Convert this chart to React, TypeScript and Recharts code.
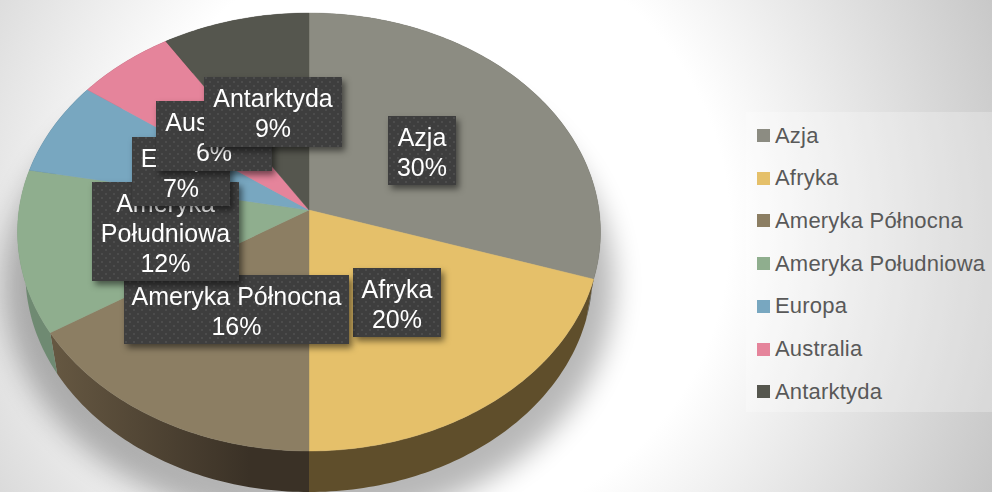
import React from "react";
import { PieChart, Pie, Legend } from "recharts";

const categories = ["Azja", "Afryka", "Ameryka Północna", "Ameryka Południowa", "Europa", "Australia", "Antarktyda"];
const shares = [30, 20, 16, 12, 7, 6, 9];
const faceColors = ["#8c8c82", "#e5c06a", "#8c7e63", "#8fae8e", "#78a7c0", "#e5849b", "#55564e"];
const wallColors = ["#55554e", "#5f4e2b", "url(#wallAP)", "#6f8a72", "#486475", "#8a4f5d", "#33342f"];
const labelLines = [["Azja"], ["Afryka"], ["Ameryka Północna"], ["Ameryka", "Południowa"], ["Europa"], ["Australia"], ["Antarktyda"]];
const labelBoxes = [
  [388, 116, 68, 69],
  [353, 268, 88, 69],
  [124, 275, 225, 69],
  [92, 182, 147, 99],
  [132, 137, 98, 69],
  [156, 101, 116, 70],
  [204, 77, 138, 70],
];

const table = categories.map((name, i) => ({ name, value: shares[i], fill: faceColors[i], wall: wallColors[i] }));

const CX = 309, CY = 210, K = 0.1005, AX = 290, AY = 216.8, DEPTH = 41, SHRINK = 0.973;
const RAD = Math.PI / 180;

function project(angle: number, scale: number, dy: number): [number, number] {
  const u = Math.cos(angle * RAD);
  const v = -Math.sin(angle * RAD);
  const w = 1 - K * v;
  return [CX + (AX * scale * u) / w, CY + dy + (AY * v) / w];
}
function rim(start: number, end: number, scale: number, dy: number): [number, number][] {
  const n = Math.max(2, Math.ceil(Math.abs(end - start)));
  const pts: [number, number][] = [];
  for (let i = 0; i <= n; i++) pts.push(project(start + ((end - start) * i) / n, scale, dy));
  return pts;
}
const toPath = (pts: [number, number][]) => "M" + pts.map((p) => p[0].toFixed(2) + "," + p[1].toFixed(2)).join("L") + "Z";

function FaceShape(props: any) {
  const pts = [[CX, CY] as [number, number], ...rim(props.startAngle, props.endAngle, 1, 0)];
  return <path d={toPath(pts)} fill={props.fill} stroke={props.fill} strokeWidth={0.4} />;
}
function WallShape(props: any) {
  const a = rim(props.startAngle, props.endAngle, 1, 0);
  const b = rim(props.endAngle, props.startAngle, SHRINK, DEPTH);
  return <path d={toPath([...a, ...b])} fill={props.wall} stroke="none" />;
}
function DataLabel(props: any) {
  const i = props.index;
  const [x, y, w, h] = labelBoxes[i];
  const lines = [...labelLines[i], shares[i] + "%"];
  return (
    <g style={{ filter: "drop-shadow(3px 4px 3px rgba(0,0,0,0.5))" }}>
      <rect x={x} y={y} width={w} height={h} fill="#3e3e3e" />
      <rect x={x} y={y} width={w} height={h} fill="url(#dots)" />
      {lines.map((t, j) => (
        <text key={j} x={x + w / 2} y={y + 29.5 + j * 30.4} textAnchor="middle" fontFamily="'Liberation Sans'" fontSize={25} fill="#ffffff">
          {t}
        </text>
      ))}
    </g>
  );
}
function LegendBox(props: any) {
  const items = (props.payload || []).filter((p: any) => p.type !== "none");
  return (
    <div style={{ width: 246, height: 300, background: "rgba(255,255,255,0.25)", position: "relative" }}>
      {items.map((p: any, i: number) => (
        <div key={p.value} style={{ position: "absolute", left: 11, top: 22.5 + i * 42.7 - 9, height: 20, display: "flex", alignItems: "center", whiteSpace: "nowrap" }}>
          <span style={{ width: 13, height: 13, background: p.color, marginRight: 5, display: "inline-block" }} />
          <span style={{ fontFamily: "'Liberation Sans'", fontSize: 22, letterSpacing: 0.2, color: "#595959" }}>{p.value}</span>
        </div>
      ))}
    </div>
  );
}

export default function App() {
  return (
    <div
      style={{
        position: "absolute", left: 0, top: 0, width: 992, height: 492, overflow: "hidden",
        background: "radial-gradient(circle at 430px 230px, #ffffff 300px, #c3c3c3 635px)",
      }}
    >
      <svg width={992} height={492} style={{ position: "absolute", left: 0, top: 0 }}>
        <defs>
          <filter id="soft" x="-20%" y="-20%" width="140%" height="140%">
            <feGaussianBlur stdDeviation="14" />
          </filter>
          <linearGradient id="wallAP" gradientUnits="userSpaceOnUse" x1="50" y1="0" x2="250" y2="0">
            <stop offset="0" stopColor="#665842" />
            <stop offset="1" stopColor="#3a3126" />
          </linearGradient>
          <pattern id="dots" patternUnits="userSpaceOnUse" width="8" height="8">
            <rect x="1" y="1" width="2" height="2" fill="#4c4c4c" />
            <rect x="5" y="5" width="2" height="2" fill="#4c4c4c" />
          </pattern>
        </defs>
        <ellipse cx={309} cy={285} rx={305} ry={240} fill="#000" opacity={0.28} filter="url(#soft)" />
      </svg>
      <div style={{ position: "absolute", left: 0, top: 0 }}>
        <PieChart width={992} height={492} margin={{ top: 0, right: 0, bottom: 0, left: 0 }}>
          <Pie data={table} dataKey="value" nameKey="name" cx={CX} cy={CY} outerRadius={200} startAngle={90} endAngle={-270}
            isAnimationActive={false} legendType="none" shape={WallShape} label={false} />
          <Pie data={table} dataKey="value" nameKey="name" cx={CX} cy={CY} outerRadius={200} startAngle={90} endAngle={-270}
            isAnimationActive={false} legendType="square" shape={FaceShape} labelLine={false} label={DataLabel} />
          <Legend layout="vertical" itemSorter={null} content={LegendBox} wrapperStyle={{ position: "absolute", left: 746, top: 112, width: 246, height: 300 }} />
        </PieChart>
      </div>
    </div>
  );
}
